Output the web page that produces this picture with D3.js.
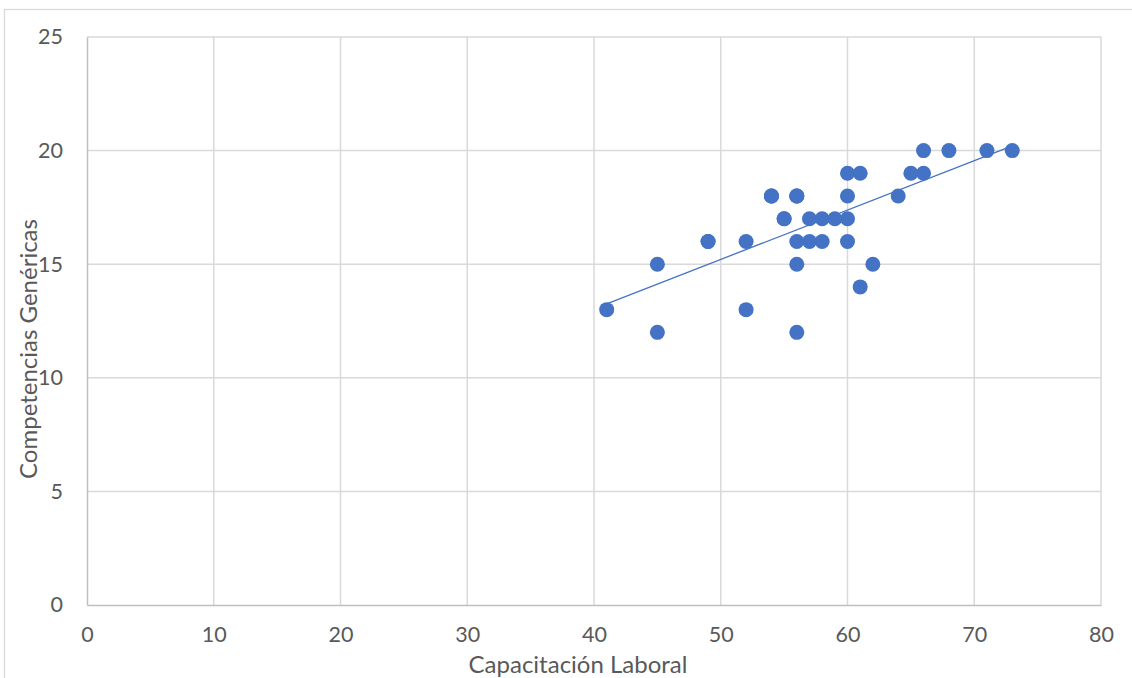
<!DOCTYPE html>
<html><head><meta charset="utf-8">
<script src="https://cdn.jsdelivr.net/npm/d3@7"></script>
<style>body{margin:0;background:#fff;}svg{display:block;font-family:Lato,"Open Sans",sans-serif;}</style>
</head><body><svg id="c" width="1132" height="678"></svg>
<script>
// visible points plus a few overlapping (hidden) duplicates, estimated from the trend line
const capacitacion = [41,45,45,49,49,52,52,54,54,54,55,55,56,56,56,56,56,56,57,57,58,58,59,60,60,60,60,61,61,62,64,65,66,66,68,71,73];
const competencias = [13,15,12,16,16,16,13,18,18,18,17,17,18,18,18,16,15,12,17,16,17,16,17,19,18,17,16,19,14,15,18,19,20,19,20,20,20];
const xTicks = [0,10,20,30,40,50,60,70,80];
const yTicks = [0,5,10,15,20,25];
const xTitle = "Capacitación Laboral";
const yTitle = "Competencias Genéricas";

const svg = d3.select("#c");
const L=87,R=1101,T=37,B=605;
const x = d3.scaleLinear().domain([0,80]).range([L,R]);
const y = d3.scaleLinear().domain([0,25]).range([B,T]);

// outer border
svg.append("rect").attr("x",4.5).attr("y",9.5).attr("width",1140).attr("height",700)
  .attr("fill","none").attr("stroke","#d9d9d9").attr("stroke-width",1.3);

// gridlines
svg.append("g").selectAll("line").data(xTicks.slice(1)).join("line")
  .attr("x1",d=>x(d)).attr("x2",d=>x(d)).attr("y1",T).attr("y2",B)
  .attr("stroke","#d9d9d9").attr("stroke-width",1.5);
svg.append("g").selectAll("line").data(yTicks.slice(1)).join("line")
  .attr("x1",L).attr("x2",R).attr("y1",d=>y(d)).attr("y2",d=>y(d))
  .attr("stroke","#d9d9d9").attr("stroke-width",1.5);

// axes
const xAxis = svg.append("g").attr("transform",`translate(0,${B})`)
  .call(d3.axisBottom(x).tickValues(xTicks).tickSize(0).tickPadding(22));
const yAxis = svg.append("g").attr("transform",`translate(${L},0)`)
  .call(d3.axisLeft(y).tickValues(yTicks).tickSize(0).tickPadding(24));
[xAxis,yAxis].forEach(g=>{
  g.select(".domain").attr("stroke","#bfbfbf").attr("stroke-width",1.5);
  g.selectAll("text").attr("fill","#595959").attr("font-size",21.5).attr("font-family","Lato,'Open Sans',sans-serif");
});

// trendline (least squares)
const n=capacitacion.length;
const mx=d3.mean(capacitacion), my=d3.mean(competencias);
let sxy=0,sxx=0;
for(let i=0;i<n;i++){sxy+=(capacitacion[i]-mx)*(competencias[i]-my);sxx+=(capacitacion[i]-mx)**2;}
const b=sxy/sxx, a=my-b*mx;
const [x0,x1]=d3.extent(capacitacion);
svg.append("line").attr("x1",x(x0)).attr("y1",y(a+b*x0)).attr("x2",x(x1)).attr("y2",y(a+b*x1))
  .attr("stroke","#4472c4").attr("stroke-width",1.3);

// points
svg.append("g").selectAll("circle").data(capacitacion.map((v,i)=>[v,competencias[i]])).join("circle")
  .attr("cx",d=>x(d[0])).attr("cy",d=>y(d[1])).attr("r",7.5).attr("fill","#4472c4");

// titles
svg.append("text").attr("x",578).attr("y",673).attr("text-anchor","middle")
  .attr("fill","#595959").attr("font-size",24).text(xTitle);
svg.append("text").attr("transform","translate(37,349) rotate(-90)").attr("text-anchor","middle")
  .attr("fill","#595959").attr("font-size",24).text(yTitle);
</script></body></html>
